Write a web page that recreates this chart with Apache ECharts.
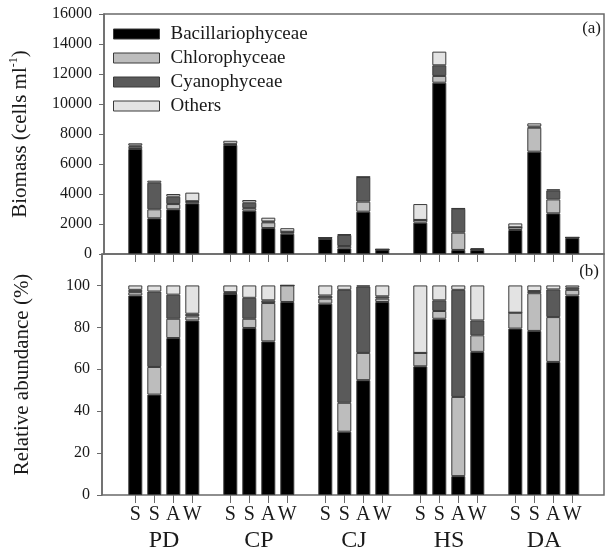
<!DOCTYPE html>
<html>
<head>
<meta charset="utf-8">
<script src="https://cdn.jsdelivr.net/npm/echarts@6/dist/echarts.min.js"></script>
<style>html,body{margin:0;padding:0;background:#fff}#c{width:605px;height:557px}</style>
</head>
<body>
<div id="c"></div>
<script>
// ---- data ----
const groups = ['PD', 'CP', 'CJ', 'HS', 'DA'];
const seasons = ['S', 'S', 'A', 'W'];
const taxa = ['Bacillariophyceae', 'Chlorophyceae', 'Cyanophyceae', 'Others'];
const yTicksTop = [0, 2000, 4000, 6000, 8000, 10000, 12000, 14000, 16000];
const yTicksBottom = [0, 20, 40, 60, 80, 100];

// biomass (cells ml-1), segment sizes, order PD S S A W, CP ..., CJ ..., HS ..., DA ...
const bioBac = [7000, 2380, 2980, 3380, 7270, 2890, 1730, 1350, 1020, 380, 2820, 290, 2090, 11420, 270, 260, 1600, 6820, 2710, 1060];
const bioChl = [150, 600, 350, 110, 40, 170, 380, 120, 40, 150, 670, 10, 180, 450, 1150, 30, 180, 1600, 930, 30];
const bioCya = [80, 1770, 490, 30, 40, 360, 60, 20, 20, 740, 1640, 5, 0, 710, 1600, 30, 0, 80, 600, 15];
const bioOth = [150, 140, 180, 570, 200, 180, 250, 230, 30, 60, 20, 15, 1060, 910, 30, 60, 260, 210, 70, 5];

// relative abundance (%), segment sizes
const relBac = [95.2, 47.9, 74.9, 83.3, 96.0, 79.7, 73.3, 92.1, 91.3, 30.2, 54.8, 92.1, 61.4, 84.1, 9.0, 68.3, 79.4, 78.3, 63.5, 95.2];
const relChl = [1.6, 13.2, 9.2, 1.9, 0.3, 4.4, 18.3, 7.9, 2.4, 13.8, 13.0, 1.6, 6.4, 3.7, 37.8, 7.9, 7.6, 18.0, 21.4, 2.7];
const relCya = [1.1, 36.0, 11.5, 1.3, 0.5, 10.0, 1.3, 0, 1.5, 53.9, 31.7, 1.1, 0, 5.1, 51.1, 7.1, 0, 1.0, 13.2, 1.0];
const relOth = [2.1, 2.9, 4.4, 13.5, 3.2, 5.9, 7.1, 0, 4.8, 2.1, 0.5, 5.2, 32.2, 7.1, 2.1, 16.7, 13.0, 2.7, 1.9, 1.1];

// ---- build ----
const cats = [];
const catLabel = {};
groups.forEach((g, gi) => {
  seasons.forEach((s, si) => { const id = g + '-' + si; cats.push(id); catLabel[id] = s; });
  if (gi < groups.length - 1) { const id = g + '-gap'; cats.push(id); catLabel[id] = ''; }
});
function withGaps(arr) {
  const out = [];
  groups.forEach((g, gi) => {
    for (let si = 0; si < seasons.length; si++) out.push(arr[gi * seasons.length + si]);
    if (gi < groups.length - 1) out.push(null);
  });
  return out;
}
const isBar = (idx, val) => catLabel[val] !== '';
const colors = ['#000000', '#bdbdbd', '#5a5a5a', '#e3e3e3'];
const font = 'Liberation Serif';
const txt = '#1a1a1a';
const axisCol = '#6a6a6a';

const bioSets = [bioBac, bioChl, bioCya, bioOth];
const relSets = [relBac, relChl, relCya, relOth];
const series = [];
taxa.forEach((t, i) => {
  series.push({ name: t, type: 'bar', stack: 'bio', xAxisIndex: 1, yAxisIndex: 1, barWidth: 14,
    data: withGaps(bioSets[i]), itemStyle: { color: colors[i], borderColor: '#3a3a3a', borderWidth: 1 } });
});
taxa.forEach((t, i) => {
  series.push({ name: t, type: 'bar', stack: 'rel', xAxisIndex: 3, yAxisIndex: 3, barWidth: 14,
    data: withGaps(relSets[i]), itemStyle: { color: colors[i], borderColor: '#3a3a3a', borderWidth: 1 } });
});

const barLeft = 125.8, barWidthTot = 456;
const frame = { show: true, borderColor: axisCol, borderWidth: 1.5, backgroundColor: 'transparent' };
const option = {
  animation: false,
  textStyle: { fontFamily: font, color: txt },
  title: [
    { text: '(a)', right: 0, top: 20, padding: [0, 4, 0, 0], textStyle: { fontFamily: font, fontSize: 17, fontWeight: 'normal', color: txt } },
    { text: '(b)', right: 0, top: 263, padding: [0, 6, 0, 0], textStyle: { fontFamily: font, fontSize: 17, fontWeight: 'normal', color: txt } }
  ],
  legend: {
    data: taxa, orient: 'vertical', left: 113, top: 24, padding: 0, itemWidth: 46, itemHeight: 10, itemGap: 4,
    icon: 'rect', itemStyle: { borderColor: '#3a3a3a', borderWidth: 1 },
    textStyle: { fontFamily: font, fontSize: 19, lineHeight: 20, color: txt, padding: [0, 0, 0, 6] },
    selectedMode: false
  },
  grid: [
    Object.assign({ left: 102, right: 1, top: 14, height: 240 }, frame),
    { left: barLeft, width: barWidthTot, top: 14, height: 240 },
    Object.assign({ left: 102, right: 1, top: 254, height: 241 }, frame),
    { left: barLeft, width: barWidthTot, top: 254, height: 241 },
    { left: 116.5, width: 475, top: 254, height: 241 }
  ],
  xAxis: [
    { gridIndex: 0, type: 'value', show: false },
    { gridIndex: 1, type: 'category', data: cats, axisLine: { show: false },
      axisTick: { show: true, alignWithLabel: true, interval: isBar, length: 8, lineStyle: { color: axisCol, width: 1 } },
      axisLabel: { show: false } },
    { gridIndex: 2, type: 'value', show: false },
    { gridIndex: 3, type: 'category', data: cats, axisLine: { show: false },
      axisTick: { show: true, alignWithLabel: true, interval: isBar, length: 8, lineStyle: { color: axisCol, width: 1 } },
      axisLabel: { interval: isBar, formatter: v => catLabel[v], fontFamily: font, fontSize: 20, color: txt, margin: 10 } },
    { gridIndex: 4, type: 'category', data: groups, axisLine: { show: false }, axisTick: { show: false },
      axisLabel: { fontFamily: font, fontSize: 24, color: txt, margin: 34 } }
  ],
  yAxis: [
    { gridIndex: 0, type: 'value', min: yTicksTop[0], max: yTicksTop[yTicksTop.length - 1], interval: yTicksTop[1] - yTicksTop[0],
      axisLine: { show: true, lineStyle: { color: axisCol, width: 1.5 } },
      axisTick: { show: true, length: 5, lineStyle: { color: axisCol } }, splitLine: { show: false },
      axisLabel: { fontFamily: font, fontSize: 16, color: txt, margin: 12, formatter: v => String(v) },
      name: '{a|Biomass (cells ml}{s|-1}{a|)}', nameLocation: 'middle', nameRotate: 90, nameGap: 72,
      nameTextStyle: { rich: { a: { fontFamily: font, fontSize: 21, color: txt, lineHeight: 24 },
        s: { fontFamily: font, fontSize: 12, color: txt, verticalAlign: 'top', lineHeight: 24 } } } },
    { gridIndex: 1, type: 'value', min: yTicksTop[0], max: yTicksTop[yTicksTop.length - 1], show: false },
    { gridIndex: 2, type: 'value', min: yTicksBottom[0], max: 115, interval: yTicksBottom[1] - yTicksBottom[0],
      axisLine: { show: true, lineStyle: { color: axisCol, width: 1.5 } },
      axisTick: { show: true, length: 5, lineStyle: { color: axisCol } }, splitLine: { show: false },
      axisLabel: { fontFamily: font, fontSize: 16, color: txt, margin: 12, showMaxLabel: false },
      name: 'Relative abundance (%)', nameLocation: 'middle', nameRotate: 90, nameGap: 69,
      nameTextStyle: { fontFamily: font, fontSize: 21, color: txt } },
    { gridIndex: 3, type: 'value', min: yTicksBottom[0], max: 115, show: false },
    { gridIndex: 4, type: 'value', show: false }
  ],
  series: series
};
echarts.init(document.getElementById('c')).setOption(option);
</script>
</body>
</html>
